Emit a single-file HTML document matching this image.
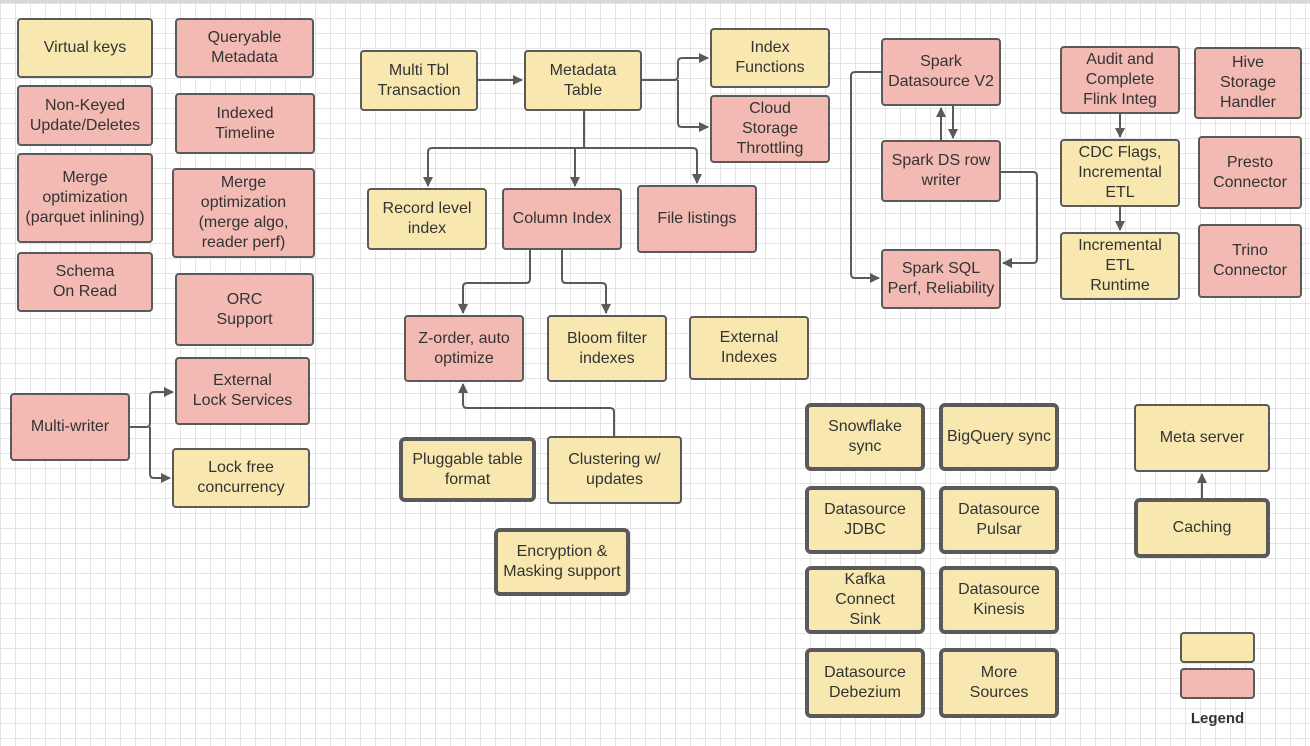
<!DOCTYPE html>
<html><head><meta charset="utf-8"><style>
html,body{margin:0;padding:0}
body{width:1310px;height:746px;position:relative;overflow:hidden;background-color:#fff;
background-image:linear-gradient(#e4e4e4 1px,transparent 1px),linear-gradient(90deg,#e4e4e4 1px,transparent 1px);
background-size:15px 15px;background-position:0 3px;font-family:"Liberation Sans",sans-serif}
.top{position:absolute;left:0;top:0;width:1310px;height:3px;background:#d8d8d8}
.b{position:absolute;box-sizing:border-box;border:2px solid #5a5a5a;border-radius:4px;display:flex;align-items:center;justify-content:center;text-align:center;font-size:16px;line-height:20px;color:#333}
.y{background:#f8e8b0}.p{background:#f2bab2}
.t{border-width:4px;border-radius:6px}
svg{position:absolute;left:0;top:0}
</style></head><body>
<div class="top"></div>
<svg width="1310" height="746" fill="none" stroke="#5a5a5a" stroke-width="2">
<defs><marker id="a" markerWidth="10" markerHeight="10" refX="9" refY="5" orient="auto" markerUnits="userSpaceOnUse"><path d="M0,0 L10,5 L0,10 z" fill="#5a5a5a" stroke="none"/></marker></defs>
<path d="M478,80 H522" marker-end="url(#a)"/>
<path d="M642,80 H674 Q678,80 678,76 V62 Q678,58 682,58 H708" marker-end="url(#a)"/>
<path d="M678,80 V123 Q678,127 682,127 H708" marker-end="url(#a)"/>
<path d="M584,111 V148 M432,148 H693"/>
<path d="M432,148 Q428,148 428,152 V186" marker-end="url(#a)"/>
<path d="M575,148 V186" marker-end="url(#a)"/>
<path d="M693,148 Q697,148 697,152 V183" marker-end="url(#a)"/>
<path d="M530,250 V279 Q530,283 526,283 H467 Q463,283 463,287 V313" marker-end="url(#a)"/>
<path d="M562,250 V279 Q562,283 566,283 H602 Q606,283 606,287 V313" marker-end="url(#a)"/>
<path d="M614,436 V412 Q614,408 610,408 H467 Q463,408 463,404 V384" marker-end="url(#a)"/>
<path d="M130,427 H146 Q150,427 150,423 V396 Q150,392 154,392 H173" marker-end="url(#a)"/>
<path d="M150,427 V474 Q150,478 154,478 H170" marker-end="url(#a)"/>
<path d="M941,140 V108" marker-end="url(#a)"/>
<path d="M953,106 V138" marker-end="url(#a)"/>
<path d="M1001,172 H1033 Q1037,172 1037,176 V259 Q1037,263 1033,263 H1003" marker-end="url(#a)"/>
<path d="M881,72 H855 Q851,72 851,76 V274 Q851,278 855,278 H879" marker-end="url(#a)"/>
<path d="M1120,114 V137" marker-end="url(#a)"/>
<path d="M1120,207 V230" marker-end="url(#a)"/>
<path d="M1202,498 V474" marker-end="url(#a)"/>
</svg>
<div class="b y" style="left:17px;top:18px;width:136px;height:60px">Virtual keys</div>
<div class="b p" style="left:175px;top:18px;width:139px;height:60px">Queryable<br>Metadata</div>
<div class="b p" style="left:17px;top:85px;width:136px;height:61px">Non-Keyed<br>Update/Deletes</div>
<div class="b p" style="left:175px;top:93px;width:140px;height:61px">Indexed<br>Timeline</div>
<div class="b p" style="left:17px;top:153px;width:136px;height:90px">Merge<br>optimization<br>(parquet inlining)</div>
<div class="b p" style="left:172px;top:168px;width:143px;height:90px">Merge<br>optimization<br>(merge algo,<br>reader perf)</div>
<div class="b p" style="left:17px;top:252px;width:136px;height:60px">Schema<br>On Read</div>
<div class="b p" style="left:175px;top:273px;width:139px;height:73px">ORC<br>Support</div>
<div class="b p" style="left:10px;top:393px;width:120px;height:68px">Multi-writer</div>
<div class="b p" style="left:175px;top:357px;width:135px;height:68px">External<br>Lock Services</div>
<div class="b y" style="left:172px;top:448px;width:138px;height:60px">Lock free<br>concurrency</div>
<div class="b y" style="left:360px;top:50px;width:118px;height:61px">Multi Tbl<br>Transaction</div>
<div class="b y" style="left:524px;top:50px;width:118px;height:61px">Metadata<br>Table</div>
<div class="b y" style="left:710px;top:28px;width:120px;height:60px">Index<br>Functions</div>
<div class="b p" style="left:710px;top:95px;width:120px;height:68px">Cloud<br>Storage<br>Throttling</div>
<div class="b y" style="left:367px;top:188px;width:120px;height:62px">Record level<br>index</div>
<div class="b p" style="left:502px;top:188px;width:120px;height:62px">Column Index</div>
<div class="b p" style="left:637px;top:185px;width:120px;height:68px">File listings</div>
<div class="b p" style="left:404px;top:315px;width:120px;height:67px">Z-order, auto<br>optimize</div>
<div class="b y" style="left:547px;top:315px;width:120px;height:67px">Bloom filter<br>indexes</div>
<div class="b y" style="left:689px;top:316px;width:120px;height:64px">External<br>Indexes</div>
<div class="b y t" style="left:399px;top:437px;width:137px;height:65px">Pluggable table<br>format</div>
<div class="b y" style="left:547px;top:436px;width:135px;height:68px">Clustering w/<br>updates</div>
<div class="b y t" style="left:494px;top:528px;width:136px;height:68px">Encryption &amp;<br>Masking support</div>
<div class="b p" style="left:881px;top:38px;width:120px;height:68px">Spark<br>Datasource V2</div>
<div class="b p" style="left:881px;top:140px;width:120px;height:62px">Spark DS row<br>writer</div>
<div class="b p" style="left:881px;top:249px;width:120px;height:60px">Spark SQL<br>Perf, Reliability</div>
<div class="b p" style="left:1060px;top:46px;width:120px;height:68px">Audit and<br>Complete<br>Flink Integ</div>
<div class="b y" style="left:1060px;top:139px;width:120px;height:68px">CDC Flags,<br>Incremental<br>ETL</div>
<div class="b y" style="left:1060px;top:232px;width:120px;height:68px">Incremental<br>ETL<br>Runtime</div>
<div class="b p" style="left:1194px;top:47px;width:108px;height:72px">Hive<br>Storage<br>Handler</div>
<div class="b p" style="left:1198px;top:136px;width:104px;height:73px">Presto<br>Connector</div>
<div class="b p" style="left:1198px;top:224px;width:104px;height:74px">Trino<br>Connector</div>
<div class="b y t" style="left:805px;top:403px;width:120px;height:68px">Snowflake<br>sync</div>
<div class="b y t" style="left:939px;top:403px;width:120px;height:68px">BigQuery sync</div>
<div class="b y t" style="left:805px;top:486px;width:120px;height:68px">Datasource<br>JDBC</div>
<div class="b y t" style="left:939px;top:486px;width:120px;height:68px">Datasource<br>Pulsar</div>
<div class="b y t" style="left:805px;top:566px;width:120px;height:68px">Kafka<br>Connect<br>Sink</div>
<div class="b y t" style="left:939px;top:566px;width:120px;height:68px">Datasource<br>Kinesis</div>
<div class="b y t" style="left:805px;top:648px;width:120px;height:70px">Datasource<br>Debezium</div>
<div class="b y t" style="left:939px;top:648px;width:120px;height:70px">More<br>Sources</div>
<div class="b y" style="left:1134px;top:404px;width:136px;height:68px">Meta server</div>
<div class="b y t" style="left:1134px;top:498px;width:136px;height:60px">Caching</div>
<div class="b y" style="left:1180px;top:632px;width:75px;height:31px"></div>
<div class="b p" style="left:1180px;top:668px;width:75px;height:31px"></div>
<div style="position:absolute;left:1170px;top:710px;width:95px;text-align:center;font-weight:bold;font-size:15px;color:#333">Legend</div>
</body></html>
